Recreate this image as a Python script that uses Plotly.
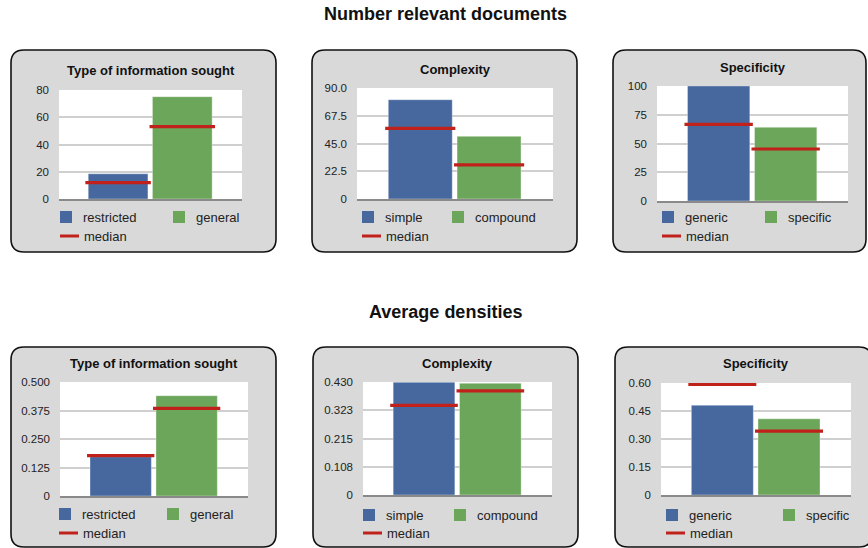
import plotly.graph_objects as go

W, H = 868, 548

# ---- data -------------------------------------------------------------
section_titles = ["Number relevant documents", "Average densities"]
panel_titles = ["Type of information sought", "Complexity", "Specificity",
                "Type of information sought", "Complexity", "Specificity"]
series_names = [["restricted", "general"], ["simple", "compound"], ["generic", "specific"],
                ["restricted", "general"], ["simple", "compound"], ["generic", "specific"]]
median_label = "median"

bar_values = [
    [18.5, 75.1],
    [80.5, 50.8],
    [100.0, 64.1],
    [0.172, 0.440],
    [0.429, 0.425],
    [0.481, 0.408],
]
median_values = [
    [12.0, 53.1],
    [57.3, 27.6],
    [66.7, 45.2],
    [0.177, 0.384],
    [0.341, 0.396],
    [0.593, 0.342],
]
y_ticks = [
    [0, 20, 40, 60, 80],
    [0, 22.5, 45, 67.5, 90],
    [0, 25, 50, 75, 100],
    [0, 0.125, 0.25, 0.375, 0.5],
    [0, 0.1075, 0.215, 0.3225, 0.43],
    [0, 0.15, 0.30, 0.45, 0.60],
]
y_tick_text = [
    ["0", "20", "40", "60", "80"],
    ["0", "22.5", "45.0", "67.5", "90.0"],
    ["0", "25", "50", "75", "100"],
    ["0", "0.125", "0.250", "0.375", "0.500"],
    ["0", "0.108", "0.215", "0.323", "0.430"],
    ["0", "0.15", "0.30", "0.45", "0.60"],
]

# ---- layout geometry (pixels) -----------------------------------------
plot_boxes = [  # x0, x1, y0(top), y1(bottom)
    (59, 242, 90, 199),
    (357, 553, 88, 199),
    (657, 848, 86, 201),
    (60, 248, 382, 496),
    (363, 552, 382, 495),
    (661, 851, 383, 495),
]
frames = [
    (11, 276, 50, 252),
    (312, 577, 50, 252),
    (613, 866, 50, 252),
    (11, 276, 347, 547),
    (313, 578, 347, 547),
    (615, 872, 347, 547),
]
title_y = [70, 69, 67, 363, 363, 363]
# legend: blue swatch x, green swatch x, first-row y, second-row y
legend_pos = [
    (60, 173, 217, 236),
    (362, 452, 217, 236),
    (662, 765, 217, 236),
    (59, 167, 514, 533),
    (363, 454, 515, 533),
    (666, 783, 515, 533),
]

BLUE = "#46689f"
GREEN = "#6ba65a"
RED = "#c0211b"
FONT = "Liberation Sans, Arial, Helvetica, sans-serif"


def px(x):
    return x / W


def py(y):
    return 1 - y / H


def rounded_rect(x0, x1, y0, y1, r=13):
    X0, X1 = px(x0), px(x1)
    Y0, Y1 = py(y0), py(y1)
    rx, ry = r / W, r / H
    return (f"M {X0 + rx},{Y0} L {X1 - rx},{Y0} Q {X1},{Y0} {X1},{Y0 - ry} "
            f"L {X1},{Y1 + ry} Q {X1},{Y1} {X1 - rx},{Y1} "
            f"L {X0 + rx},{Y1} Q {X0},{Y1} {X0},{Y1 + ry} "
            f"L {X0},{Y0 - ry} Q {X0},{Y0} {X0 + rx},{Y0} Z")


fig = go.Figure()
shapes = []
annotations = []
layout_axes = {}

for i in range(6):
    n = "" if i == 0 else str(i + 1)
    xa, ya = "x" + n, "y" + n
    x0, x1, y0, y1 = plot_boxes[i]
    vals = bar_values[i]
    meds = median_values[i]
    colors = [BLUE, GREEN]

    # grey rounded panel frame
    fx0, fx1, fy0, fy1 = frames[i]
    shapes.append(dict(type="path", xref="paper", yref="paper",
                       path=rounded_rect(fx0, fx1, fy0, fy1),
                       fillcolor="#d9d9d9", line=dict(color="#111111", width=1.6),
                       layer="below"))
    # white plot background
    shapes.append(dict(type="rect", xref="paper", yref="paper",
                       x0=px(x0), x1=px(x1), y0=py(y1), y1=py(y0),
                       fillcolor="white", line=dict(width=0), layer="below"))

    for k in range(2):
        fig.add_trace(go.Bar(
            x=[k], y=[vals[k]], width=0.93, name=series_names[i][k],
            marker=dict(color=colors[k], line=dict(color="rgba(255,255,255,0.35)", width=1)),
            xaxis=xa, yaxis=ya, showlegend=False, hoverinfo="skip"))

    mx, my = [], []
    for k in range(2):
        mx += [k - 0.51, k + 0.51, None]
        my += [meds[k], meds[k], None]
    fig.add_trace(go.Scatter(
        x=mx, y=my, mode="lines", line=dict(color=RED, width=3.2),
        name=median_label, xaxis=xa, yaxis=ya, showlegend=False, hoverinfo="skip"))

    layout_axes["xaxis" + n] = dict(
        domain=[px(x0), px(x1)], anchor=ya, range=[-0.92, 1.93],
        showgrid=False, zeroline=False, showticklabels=False, automargin=False,
        showline=True, linecolor="#8a8a8a", linewidth=2.2, fixedrange=True)
    layout_axes["yaxis" + n] = dict(
        domain=[py(y1), py(y0)], anchor=xa, range=[0, y_ticks[i][-1]],
        tickmode="array", tickvals=y_ticks[i], ticktext=y_tick_text[i],
        showgrid=True, gridcolor="#cfcfcf", gridwidth=1.6, zeroline=False,
        showline=False, ticks="", ticklabelstandoff=9, automargin=False,
        tickfont=dict(family=FONT, size=11.5, color="#222222"), fixedrange=True)

    # panel title
    annotations.append(dict(
        text=panel_titles[i], xref="paper", yref="paper",
        x=px((x0 + x1) / 2), y=py(title_y[i]), xanchor="center", yanchor="middle",
        showarrow=False, font=dict(family=FONT, size=13, color="#111111", weight="bold")))

    # legend drawn inside the frame
    bx, gx, ly1, ly2 = legend_pos[i]
    for k, sx in enumerate([bx, gx]):
        shapes.append(dict(type="rect", xref="paper", yref="paper",
                           x0=px(sx), x1=px(sx + 12), y0=py(ly1 + 6), y1=py(ly1 - 6),
                           fillcolor=colors[k], line=dict(width=0)))
        annotations.append(dict(
            text=series_names[i][k], xref="paper", yref="paper",
            x=px(sx + 21), y=py(ly1), xanchor="left", yanchor="middle",
            showarrow=False, font=dict(family=FONT, size=13, color="#222222")))
    shapes.append(dict(type="line", xref="paper", yref="paper",
                       x0=px(bx), x1=px(bx + 19), y0=py(ly2), y1=py(ly2),
                       line=dict(color=RED, width=3)))
    annotations.append(dict(
        text=median_label, xref="paper", yref="paper",
        x=px(bx + 22), y=py(ly2), xanchor="left", yanchor="middle",
        showarrow=False, font=dict(family=FONT, size=13, color="#222222")))

# section headings
for text, y in zip(section_titles, [14, 312]):
    annotations.append(dict(
        text=text, xref="paper", yref="paper", x=px(445), y=py(y),
        xanchor="center", yanchor="middle", showarrow=False,
        font=dict(family=FONT, size=18, color="#111111", weight="bold")))

fig.update_layout(
    width=W, height=H, margin=dict(l=0, r=0, t=0, b=0, autoexpand=False),
    paper_bgcolor="white", plot_bgcolor="rgba(0,0,0,0)",
    barmode="overlay", showlegend=False,
    shapes=shapes, annotations=annotations, **layout_axes)

fig.write_html("out.html", config={"displayModeBar": False})
